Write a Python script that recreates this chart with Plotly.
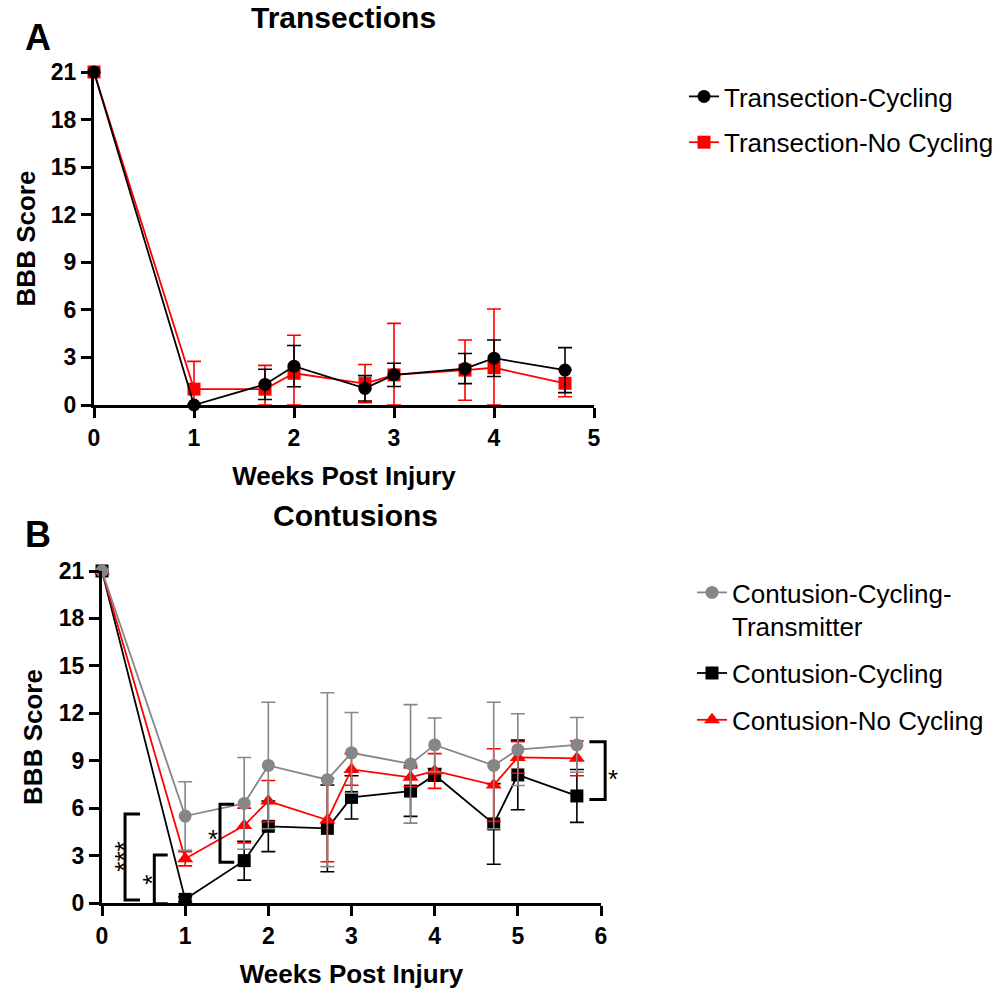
import plotly.graph_objects as go

# ---------------- data ----------------
# Panel A: transection groups (weeks post injury)
weeks_a = [0, 1, 1.71, 2, 2.71, 3, 3.71, 4, 4.71]
trans_cyc_mean = [21, 0.0, 1.3, 2.45, 1.05, 1.9, 2.3, 2.95, 2.2]
trans_cyc_sem = [0, 0, 0.95, 1.3, 0.8, 0.73, 0.95, 1.15, 1.42]
trans_nocyc_mean = [21, 1.0, 1.0, 2.0, 1.35, 1.9, 2.2, 2.35, 1.37]
trans_nocyc_sem = [0, 1.75, 1.5, 2.4, 1.2, 3.25, 1.9, 3.7, 0.85]

# Panel B: contusion groups
weeks_b = [0, 1, 1.71, 2, 2.71, 3, 3.71, 4, 4.71, 5, 5.71]
cont_tx_mean = [21, 5.5, 6.3, 8.7, 7.8, 9.5, 8.8, 10.0, 8.7, 9.7, 10.0]
cont_tx_sem = [0, 2.17, 2.9, 4.0, 5.5, 2.55, 3.75, 1.7, 4.0, 2.27, 1.73]
cont_cyc_mean = [21, 0.23, 2.68, 4.85, 4.72, 6.68, 7.08, 8.1, 5.0, 8.1, 6.77]
cont_cyc_sem = [0, 0.15, 1.23, 1.6, 2.74, 1.37, 1.6, 0.4, 2.55, 2.2, 1.67]
cont_nocyc_mean = [21, 2.8, 4.9, 6.45, 5.25, 8.45, 7.95, 8.35, 7.46, 9.21, 9.15]
cont_nocyc_sem = [0, 0.45, 1.1, 1.3, 2.64, 1.0, 0.6, 1.1, 2.3, 1.0, 1.1]

y_ticks = [0, 3, 6, 9, 12, 15, 18, 21]
xa_ticks = [0, 1, 2, 3, 4, 5]
xb_ticks = [0, 1, 2, 3, 4, 5, 6]

# significance brackets for panel B:
# (x of spine, x of arm ends, y low, y high, label, label x, label y, label angle)
brackets = [
    (0.277, 0.457, 0.19, 5.63, "***", 0.19, 2.92, -90),
    (0.629, 0.790, -0.05, 3.04, "*", 0.525, 1.45, -90),
    (1.419, 1.590, 2.57, 6.24, "*", 1.33, 4.4, 0),
    (6.050, 5.860, 6.55, 10.2, "*", 6.14, 8.2, 0),
]

# ---------------- style ----------------
FONT = "Liberation Sans, Arial, Helvetica, sans-serif"
W, H = 1002, 993
RED = "#ff0000"
GREY = "#868686"
BLACK = "#000000"
XB_MAX, Y_MAX = 6, 21


def lower(mean, sem):
    # error bars stop at the x axis
    return [min(s, m) for m, s in zip(mean, sem)]


def series(x, mean, sem, name, color, symbol, size, xaxis, yaxis, legend, rank):
    return go.Scatter(
        x=x, y=mean, name=name, mode="lines+markers",
        line=dict(color=color, width=1.8),
        marker=dict(color=color, symbol=symbol, size=size, line=dict(width=0)),
        error_y=dict(type="data", array=sem, arrayminus=lower(mean, sem),
                     color=color, thickness=1.6, width=7),
        cliponaxis=False, xaxis=xaxis, yaxis=yaxis, legend=legend,
        legendgroup=name, legendrank=rank,
    )


fig = go.Figure()
fig.add_trace(series(weeks_a, trans_nocyc_mean, trans_nocyc_sem, "Transection-No Cycling",
                     RED, "square", 13, "x", "y", "legend", 2))
fig.add_trace(series(weeks_a, trans_cyc_mean, trans_cyc_sem, "Transection-Cycling",
                     BLACK, "circle", 13, "x", "y", "legend", 1))

fig.add_trace(series(weeks_b, cont_cyc_mean, cont_cyc_sem, "Contusion-Cycling",
                     BLACK, "square", 13, "x2", "y2", "legend2", 2))
fig.add_trace(series(weeks_b, cont_nocyc_mean, cont_nocyc_sem, "Contusion-No Cycling",
                     RED, "triangle-up", 14, "x2", "y2", "legend2", 3))
fig.add_trace(series(weeks_b, cont_tx_mean, cont_tx_sem, "Contusion-Cycling-<br>Transmitter",
                     GREY, "circle", 13, "x2", "y2", "legend2", 1))


def px_x(p):
    return p / W


def px_y(p):
    return 1 - p / H


axis_common = dict(
    showline=True, linecolor="black", linewidth=3, ticks="outside", ticklen=10,
    tickwidth=3, tickcolor="black", showgrid=False, zeroline=False, automargin=False,
    tickfont=dict(family=FONT, size=23, color="black", weight="bold"),
    title_font=dict(family=FONT, size=26, color="black", weight="bold"),
)

fig.update_layout(
    width=W, height=H, margin=dict(l=0, r=0, t=0, b=0, autoexpand=False),
    paper_bgcolor="white", plot_bgcolor="white",
    font=dict(family=FONT, color="black"),
    xaxis=dict(axis_common, domain=[px_x(94), px_x(594)], range=[0, 5], tickvals=xa_ticks,
               anchor="y", title=dict(text="Weeks Post Injury", standoff=18)),
    yaxis=dict(axis_common, domain=[px_y(405), px_y(72)], range=[0, Y_MAX], tickvals=y_ticks,
               anchor="x", title=dict(text="BBB Score", standoff=8)),
    xaxis2=dict(axis_common, domain=[px_x(102), px_x(601)], range=[0, XB_MAX], tickvals=xb_ticks,
                anchor="y2", title=dict(text="Weeks Post Injury", standoff=18)),
    yaxis2=dict(axis_common, domain=[px_y(903), px_y(571)], range=[0, Y_MAX], tickvals=y_ticks,
                anchor="x2", title=dict(text="BBB Score", standoff=9)),
    legend=dict(x=px_x(684), y=px_y(73), xanchor="left", yanchor="top",
                font=dict(family=FONT, size=26, color="black"),
                traceorder="grouped", tracegroupgap=9, bgcolor="rgba(0,0,0,0)"),
    legend2=dict(x=px_x(692), y=px_y(569), xanchor="left", yanchor="top",
                 font=dict(family=FONT, size=26, color="black"), valign="top",
                 traceorder="grouped", tracegroupgap=10, bgcolor="rgba(0,0,0,0)"),
    showlegend=True,
)

# panel titles and letters
for text, cx, cy, size in [("Transections", 343, 18, 30), ("Contusions", 355, 515, 30),
                           ("A", 38, 38, 36), ("B", 38, 534, 36)]:
    fig.add_annotation(text=text, x=px_x(cx), y=px_y(cy), xref="paper", yref="paper",
                       xanchor="center", yanchor="middle", showarrow=False,
                       font=dict(family=FONT, size=size, color="black", weight="bold"))

# significance brackets (placed in axis-domain units of panel B so they may sit past the axis end)
for xs, xe, y0, y1, label, lx, ly, ang in brackets:
    dx0, dx1 = xs / XB_MAX, xe / XB_MAX
    dy0, dy1 = y0 / Y_MAX, y1 / Y_MAX
    fig.add_shape(type="path", xref="x2 domain", yref="y2 domain",
                  path=f"M {dx1},{dy1} L {dx0},{dy1} L {dx0},{dy0} L {dx1},{dy0}",
                  line=dict(color="black", width=3))
    # an asterisk sits high in its text box; nudge it so the star itself lands on (lx, ly)
    shift = dict(xshift=6, yshift=0) if ang else dict(xshift=0, yshift=-6)
    fig.add_annotation(text=label, x=lx / XB_MAX, y=ly / Y_MAX, xref="x2 domain",
                       yref="y2 domain", xanchor="center", yanchor="middle",
                       showarrow=False, textangle=ang, **shift,
                       font=dict(family=FONT, size=26, color="#000000"))

fig.write_html("out.html")
